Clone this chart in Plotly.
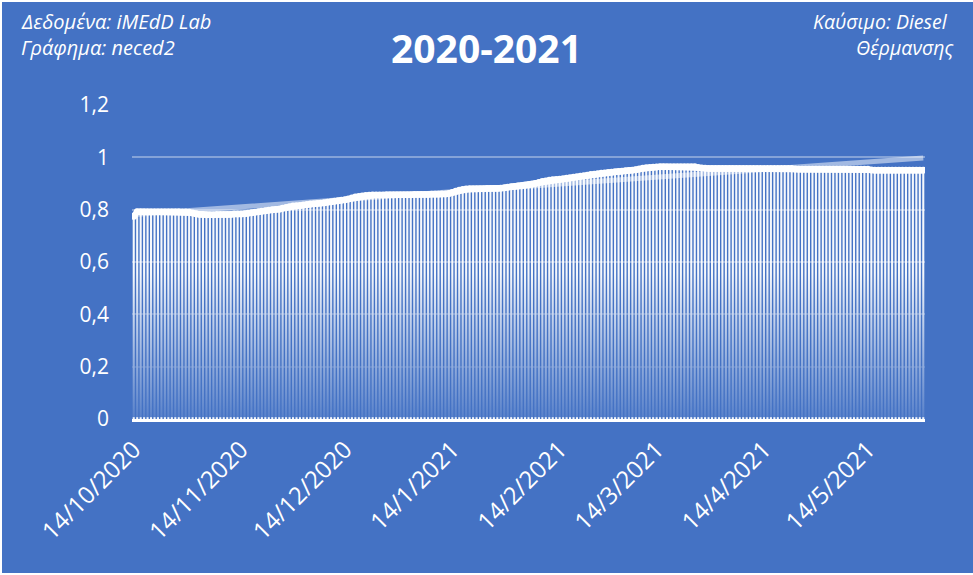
import base64
import numpy as np
import pandas as pd
import plotly.graph_objects as go

# ---------------- data ----------------
start_date = "2020-10-14"

oct_vals = [0.775, 0.792, 0.792, 0.792, 0.792, 0.792, 0.792, 0.792, 0.792, 0.792,
            0.792, 0.792, 0.792, 0.792, 0.791, 0.791, 0.790, 0.787]
nov_vals = [0.784, 0.782, 0.782, 0.781, 0.781, 0.781, 0.782, 0.782, 0.782, 0.782,
            0.782, 0.783, 0.783, 0.783, 0.784, 0.786, 0.788, 0.790, 0.792, 0.794,
            0.796, 0.798, 0.800, 0.801, 0.802, 0.805, 0.808, 0.811, 0.814, 0.815]
dec_vals = [0.816, 0.818, 0.820, 0.822, 0.823, 0.824, 0.825, 0.826, 0.828, 0.830,
            0.832, 0.834, 0.836, 0.838, 0.841, 0.845, 0.848, 0.850, 0.852, 0.854,
            0.855, 0.856, 0.856, 0.856, 0.856, 0.857, 0.857, 0.857, 0.857, 0.857,
            0.857]
jan_vals = [0.857, 0.857, 0.858, 0.858, 0.858, 0.858, 0.858, 0.859, 0.859, 0.859,
            0.860, 0.860, 0.862, 0.866, 0.870, 0.874, 0.877, 0.879, 0.880, 0.880,
            0.880, 0.880, 0.880, 0.881, 0.881, 0.881, 0.881, 0.882, 0.884, 0.886,
            0.888]
feb_vals = [0.889, 0.890, 0.891, 0.893, 0.895, 0.897, 0.900, 0.904, 0.908, 0.910,
            0.912, 0.914, 0.915, 0.916, 0.918, 0.920, 0.922, 0.924, 0.926, 0.928,
            0.930, 0.932, 0.934, 0.935, 0.937, 0.939, 0.940, 0.942]
mar_vals = [0.943, 0.945, 0.946, 0.947, 0.949, 0.950, 0.951, 0.953, 0.955, 0.958,
            0.960, 0.961, 0.962, 0.963, 0.964, 0.964, 0.964, 0.964, 0.964, 0.964,
            0.964, 0.964, 0.964, 0.964, 0.964, 0.961, 0.959, 0.958, 0.957, 0.957,
            0.957]
apr_vals = [0.957, 0.957, 0.957, 0.957, 0.957, 0.957, 0.957, 0.957, 0.957, 0.957,
            0.957, 0.957, 0.957, 0.957, 0.957, 0.957, 0.957, 0.957, 0.957, 0.957,
            0.957, 0.957, 0.955, 0.954, 0.954, 0.954, 0.954, 0.954, 0.954, 0.954]
may_vals = [0.954, 0.954, 0.954, 0.954, 0.954, 0.954, 0.954, 0.954, 0.954, 0.954,
            0.954, 0.954, 0.954, 0.954, 0.952, 0.951, 0.951, 0.951, 0.951, 0.951,
            0.951, 0.951, 0.951, 0.951, 0.951, 0.951, 0.951, 0.951, 0.951, 0.951]

prices = oct_vals + nov_vals + dec_vals + jan_vals + feb_vals + mar_vals + apr_vals + may_vals
dates = pd.date_range(start_date, periods=len(prices), freq="D")

tick_dates = ["2020-10-14", "2020-11-14", "2020-12-14", "2021-01-14",
              "2021-02-14", "2021-03-14", "2021-04-14", "2021-05-14"]
tick_labels = ["14/10/2020", "14/11/2020", "14/12/2020", "14/1/2021",
               "14/2/2021", "14/3/2021", "14/4/2021", "14/5/2021"]
y_ticks = [0, 0.2, 0.4, 0.6, 0.8, 1, 1.2]

title_text = "2020-2021"
source_lines = ["Δεδομένα: iMEdD Lab", "Γράφημα: neced2"]
fuel_lines = ["Καύσιμο: Diesel", "Θέρμανσης"]

# linear trendline (least squares, like Excel)
xi = np.arange(len(prices))
coef = np.polyfit(xi, np.array(prices), 1)
trend = np.polyval(coef, xi)

# ---------------- style ----------------
BLUE = "#4472C4"
W, H = 973, 575
L, R, T, B = 132, 48, 105, 156
pw, ph = W - L - R, H - T - B

def px_x(p):
    return (p - L) / pw

def px_y(p):
    return (H - B - p) / ph

fig = go.Figure()
fig.add_trace(go.Bar(x=dates, y=prices, marker=dict(color="rgba(255,255,255,0.95)", line_width=0),
                     hoverinfo="skip"))
fig.add_trace(go.Scatter(x=dates, y=trend, mode="lines",
                         line=dict(color="rgba(255,255,255,0.5)", width=5), hoverinfo="skip"))
fig.add_trace(go.Scatter(x=dates, y=prices, mode="lines+markers",
                         line=dict(color="white", width=6),
                         marker=dict(color="white", size=7), hoverinfo="skip"))

svg = ('<svg xmlns="http://www.w3.org/2000/svg" width="10" height="100" preserveAspectRatio="none">'
       '<defs><linearGradient id="g" x1="0" y1="0" x2="0" y2="1">'
       '<stop offset="0" stop-color="#4472C4" stop-opacity="0"/>'
       '<stop offset="0.45" stop-color="#4472C4" stop-opacity="0.4"/>'
       '<stop offset="1" stop-color="#4472C4" stop-opacity="0.88"/>'
       '</linearGradient></defs><rect width="10" height="100" fill="url(#g)"/></svg>')
svg_uri = "data:image/svg+xml;base64," + base64.b64encode(svg.encode()).decode()

font_family = "Open Sans"
annotations = []
annotations.append(dict(text=title_text, xref="paper", yref="paper", x=px_x(486), y=px_y(48),
                        xanchor="center", yanchor="middle", showarrow=False,
                        font=dict(family=font_family, size=39, color="white", weight="bold")))
for i, t in enumerate(source_lines):
    annotations.append(dict(text="<i>" + t + "</i>", xref="paper", yref="paper",
                            x=px_x(19), y=px_y(21 + 26 * i), xanchor="left", yanchor="middle",
                            showarrow=False, font=dict(family=font_family, size=20, color="white")))
fuel_right = [950, 956]
for i, t in enumerate(fuel_lines):
    annotations.append(dict(text="<i>" + t + "</i>", xref="paper", yref="paper",
                            x=px_x(fuel_right[i]), y=px_y(21 + 26 * i), xanchor="right", yanchor="middle",
                            showarrow=False, font=dict(family=font_family, size=19.5, color="white")))

fig.update_layout(
    width=W, height=H,
    margin=dict(l=L, r=R, t=T, b=B, pad=0),
    paper_bgcolor="white", plot_bgcolor=BLUE,
    showlegend=False, bargap=0.4,
    separators=",.",
    font=dict(family=font_family, color="white"),
    annotations=annotations,
    shapes=[dict(type="rect", xref="paper", yref="paper", layer="below",
                 x0=px_x(2), x1=px_x(W + 5), y0=px_y(H - 2), y1=px_y(2),
                 fillcolor=BLUE, line_width=0)],
    images=[dict(source=svg_uri, xref="paper", yref="y", x=0, y=0.56,
                 sizex=1, sizey=0.554, sizing="stretch", xanchor="left", yanchor="top",
                 layer="above")],
    xaxis=dict(type="date", range=["2020-10-13 12:00", "2021-05-30 12:00"],
               tickvals=tick_dates, ticktext=tick_labels, tickangle=-45,
               tickfont=dict(size=24, color="white", family=font_family),
               showgrid=False, showline=True, linecolor="white", linewidth=3,
               ticks="", zeroline=False, ticklabelstandoff=4),
    yaxis=dict(range=[0, 1.2], tickvals=y_ticks, showgrid=True,
               gridcolor="rgba(255,255,255,0.35)", gridwidth=2, zeroline=False,
               tickfont=dict(size=21, color="white", family=font_family),
               ticks="", ticklabelstandoff=22),
)

fig.write_html("out.html", config={"displayModeBar": False},
               post_script="document.body.style.margin='0';document.body.style.padding='0';")
